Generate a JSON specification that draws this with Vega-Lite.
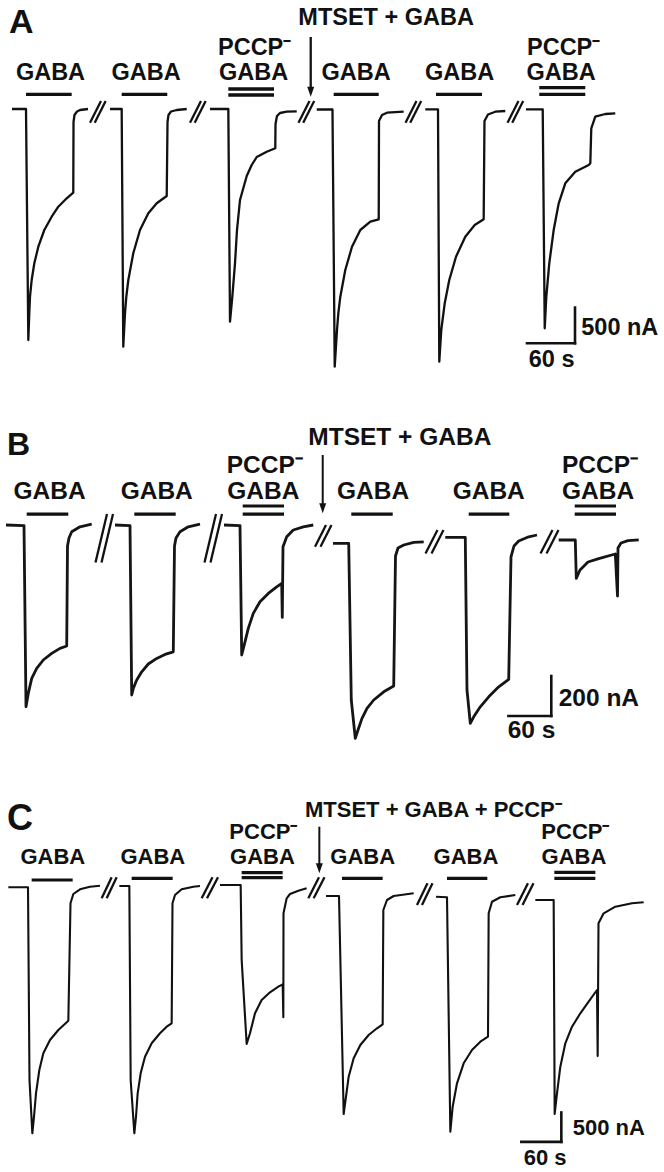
{
"$schema":"https://vega.github.io/schema/vega-lite/v6.json",
"background":"white","padding":0,"spacing":0,"bounds":"flush",
"config":{"view":{"stroke":null},"text":{"font":"Liberation Sans","fontWeight":"bold"}},
"datasets":{
"trA":[
{"s":"A1","t":15,"i":0},{"s":"A1","t":32.5,"i":0},{"s":"A1","t":35.4,"i":-3234},{"s":"A1","t":36.6,"i":-2860},{"s":"A1","t":37.5,"i":-2628},{"s":"A1","t":39.6,"i":-2394},{"s":"A1","t":42.9,"i":-2160},{"s":"A1","t":47.9,"i":-1928},{"s":"A1","t":55.4,"i":-1694},{"s":"A1","t":64.6,"i":-1508},{"s":"A1","t":72.9,"i":-1368},{"s":"A1","t":83.4,"i":-1250},{"s":"A1","t":91.6,"i":-1172},{"s":"A1","t":91.9,"i":-182},{"s":"A1","t":93.1,"i":-84},{"s":"A1","t":96.3,"i":-35},{"s":"A1","t":100,"i":-14},{"s":"A1","t":110,"i":0},
{"s":"A2","t":137.5,"i":0},{"s":"A2","t":152.1,"i":0},{"s":"A2","t":154.1,"i":-3328},{"s":"A2","t":156.25,"i":-2860},{"s":"A2","t":157.9,"i":-2628},{"s":"A2","t":160.4,"i":-2394},{"s":"A2","t":166.6,"i":-2020},{"s":"A2","t":175,"i":-1694},{"s":"A2","t":185.4,"i":-1460},{"s":"A2","t":195.9,"i":-1320},{"s":"A2","t":208.4,"i":-1218},{"s":"A2","t":209.4,"i":-182},{"s":"A2","t":210.6,"i":-84},{"s":"A2","t":213.75,"i":-35},{"s":"A2","t":220.9,"i":-14},{"s":"A2","t":233.4,"i":0},
{"s":"A3","t":262.5,"i":0},{"s":"A3","t":285.4,"i":0},{"s":"A3","t":287.5,"i":-2978},{"s":"A3","t":290.4,"i":-2628},{"s":"A3","t":293.75,"i":-2160},{"s":"A3","t":296.25,"i":-1694},{"s":"A3","t":300,"i":-1274},{"s":"A3","t":308.4,"i":-938},{"s":"A3","t":314.6,"i":-784},{"s":"A3","t":320.9,"i":-672},{"s":"A3","t":333.4,"i":-598},{"s":"A3","t":344.1,"i":-550},{"s":"A3","t":344.4,"i":-210},{"s":"A3","t":346.25,"i":-98},{"s":"A3","t":350,"i":-56},{"s":"A3","t":358.4,"i":-38},{"s":"A3","t":370.9,"i":-32},
{"s":"A4","t":395.9,"i":-7},{"s":"A4","t":415.6,"i":-7},{"s":"A4","t":418.4,"i":-3608},{"s":"A4","t":421.25,"i":-3094},{"s":"A4","t":422.9,"i":-2860},{"s":"A4","t":425.4,"i":-2628},{"s":"A4","t":431.6,"i":-2254},{"s":"A4","t":440,"i":-1928},{"s":"A4","t":450.4,"i":-1694},{"s":"A4","t":462.9,"i":-1578},{"s":"A4","t":473.4,"i":-1544},{"s":"A4","t":473.75,"i":-168},{"s":"A4","t":477.5,"i":-84},{"s":"A4","t":483.75,"i":-52},{"s":"A4","t":504.6,"i":-38},
{"s":"A5","t":531.6,"i":-4},{"s":"A5","t":547.5,"i":-4},{"s":"A5","t":549.1,"i":-3538},{"s":"A5","t":551.6,"i":-3094},{"s":"A5","t":555.9,"i":-2720},{"s":"A5","t":561.6,"i":-2394},{"s":"A5","t":570,"i":-2068},{"s":"A5","t":581.6,"i":-1788},{"s":"A5","t":593.4,"i":-1624},{"s":"A5","t":604.6,"i":-1544},{"s":"A5","t":605.6,"i":-168},{"s":"A5","t":610,"i":-77},{"s":"A5","t":619.1,"i":-38},{"s":"A5","t":631.6,"i":-28},
{"s":"A6","t":657.5,"i":-4},{"s":"A6","t":678.4,"i":-4},{"s":"A6","t":680.9,"i":-3070},{"s":"A6","t":682.9,"i":-2628},{"s":"A6","t":686.6,"i":-2160},{"s":"A6","t":692.1,"i":-1694},{"s":"A6","t":698.4,"i":-1320},{"s":"A6","t":706.6,"i":-1040},{"s":"A6","t":719.1,"i":-878},{"s":"A6","t":735.9,"i":-784},{"s":"A6","t":737.9,"i":-760},{"s":"A6","t":739.1,"i":-270},{"s":"A6","t":744.1,"i":-108},{"s":"A6","t":756.6,"i":-70},{"s":"A6","t":769.1,"i":-60}
],
"segA":[
{"g":"bar","t":32.5,"i":206,"t2":89.6,"i2":206},{"g":"bar","t":152.1,"i":206,"t2":209.1,"i2":206},{"g":"bar","t":285.4,"i":280,"t2":342.5,"i2":280},{"g":"bar","t":285.4,"i":196,"t2":342.5,"i2":196},{"g":"bar","t":417.1,"i":206,"t2":473.4,"i2":206},{"g":"bar","t":545,"i":206,"t2":602.5,"i2":206},{"g":"bar","t":674.1,"i":300,"t2":731.6,"i2":300},{"g":"bar","t":674.1,"i":206,"t2":731.6,"i2":206},
{"g":"brk","t":112.5,"i":-192,"t2":126.25,"i2":112},{"g":"brk","t":118.4,"i":-192,"t2":132.1,"i2":112},{"g":"brk","t":237.5,"i":-192,"t2":251.25,"i2":112},{"g":"brk","t":243.4,"i":-192,"t2":257.1,"i2":112},{"g":"brk","t":373.1,"i":-192,"t2":386.9,"i2":112},{"g":"brk","t":379,"i":-192,"t2":392.75,"i2":112},{"g":"brk","t":506.9,"i":-192,"t2":520.6,"i2":112},{"g":"brk","t":512.75,"i":-192,"t2":526.5,"i2":112},{"g":"brk","t":634.4,"i":-192,"t2":648.1,"i2":112},{"g":"brk","t":640.25,"i":-192,"t2":654,"i2":112},
{"g":"sc","t":718.75,"i":-2780,"t2":718.75,"i2":-3280},{"g":"sc","t":658.75,"i":-3280,"t2":718.75,"i2":-3280},
{"g":"arr","t":388.4,"i":1008,"t2":388.4,"i2":242}
],
"ptA":[{"t":388.4,"i":242}],
"txA":[
{"g":"big","t":11.25,"i":1064,"txt":"A"},
{"g":"l","t":372.9,"i":1176,"txt":"MTSET + GABA"},
{"g":"c","t":63.1,"i":406,"txt":"GABA"},{"g":"c","t":182.5,"i":406,"txt":"GABA"},{"g":"c","t":316.9,"i":406,"txt":"GABA"},{"g":"c","t":445,"i":406,"txt":"GABA"},{"g":"c","t":574.4,"i":406,"txt":"GABA"},{"g":"c","t":701.25,"i":406,"txt":"GABA"},
{"g":"l","t":272.5,"i":756,"txt":"PCCP\u207b"},{"g":"l","t":658.75,"i":756,"txt":"PCCP\u207b"},
{"g":"l","t":726.6,"i":-3164,"txt":"500 nA"},{"g":"l","t":660.9,"i":-3608,"txt":"60 s"}
],
"trB":[
{"s":"B1","t":8.4,"i":0},{"s":"B1","t":33.6,"i":-3},{"s":"B1","t":36.4,"i":-909},{"s":"B1","t":39.6,"i":-842},{"s":"B1","t":44.4,"i":-767},{"s":"B1","t":51.4,"i":-717},{"s":"B1","t":60.6,"i":-675},{"s":"B1","t":72.4,"i":-642},{"s":"B1","t":84,"i":-617},{"s":"B1","t":93.4,"i":-605},{"s":"B1","t":94.5,"i":-105},{"s":"B1","t":96.6,"i":-65},{"s":"B1","t":100.4,"i":-34},{"s":"B1","t":112,"i":-9},{"s":"B1","t":128.4,"i":4},
{"s":"B2","t":161,"i":0},{"s":"B2","t":182,"i":-3},{"s":"B2","t":184.4,"i":-850},{"s":"B2","t":186.6,"i":-817},{"s":"B2","t":191.4,"i":-775},{"s":"B2","t":198.4,"i":-734},{"s":"B2","t":207.6,"i":-695},{"s":"B2","t":219.4,"i":-667},{"s":"B2","t":231,"i":-647},{"s":"B2","t":242.6,"i":-634},{"s":"B2","t":244.3,"i":-105},{"s":"B2","t":246.4,"i":-65},{"s":"B2","t":252,"i":-34},{"s":"B2","t":263.6,"i":-9},{"s":"B2","t":280,"i":4},
{"s":"B3","t":313.6,"i":0},{"s":"B3","t":336,"i":-3},{"s":"B3","t":338.4,"i":-650},{"s":"B3","t":343,"i":-584},{"s":"B3","t":347.6,"i":-517},{"s":"B3","t":354.6,"i":-442},{"s":"B3","t":364,"i":-384},{"s":"B3","t":375.6,"i":-342},{"s":"B3","t":387.4,"i":-309},{"s":"B3","t":394.4,"i":-292},{"s":"B3","t":395.2,"i":-462},{"s":"B3","t":396.2,"i":-109},{"s":"B3","t":401.4,"i":-59},{"s":"B3","t":410.6,"i":-25},{"s":"B3","t":424.6,"i":-9},{"s":"B3","t":438.6,"i":0},
{"s":"B4","t":466.2,"i":-92},{"s":"B4","t":488.2,"i":-92},{"s":"B4","t":491.8,"i":-875},{"s":"B4","t":497.4,"i":-1067},{"s":"B4","t":501.2,"i":-1025},{"s":"B4","t":506.8,"i":-967},{"s":"B4","t":513.8,"i":-917},{"s":"B4","t":523.2,"i":-875},{"s":"B4","t":537.2,"i":-834},{"s":"B4","t":551.2,"i":-805},{"s":"B4","t":553.7,"i":-155},{"s":"B4","t":557.2,"i":-115},{"s":"B4","t":565.2,"i":-100},{"s":"B4","t":579.2,"i":-87},{"s":"B4","t":593.2,"i":-84},
{"s":"B5","t":623.4,"i":-62},{"s":"B5","t":651.4,"i":-62},{"s":"B5","t":653.8,"i":-825},{"s":"B5","t":658.4,"i":-992},{"s":"B5","t":663.2,"i":-959},{"s":"B5","t":672.4,"i":-909},{"s":"B5","t":684.2,"i":-859},{"s":"B5","t":698.2,"i":-809},{"s":"B5","t":712.2,"i":-772},{"s":"B5","t":715.4,"i":-159},{"s":"B5","t":719.6,"i":-105},{"s":"B5","t":726.2,"i":-80},{"s":"B5","t":740.2,"i":-59},{"s":"B5","t":751.8,"i":-50},
{"s":"B6","t":782.2,"i":-75},{"s":"B6","t":805.4,"i":-75},{"s":"B6","t":806.8,"i":-267},{"s":"B6","t":812,"i":-225},{"s":"B6","t":823.2,"i":-185},{"s":"B6","t":838.2,"i":-168},{"s":"B6","t":861.4,"i":-145},{"s":"B6","t":864.5,"i":-355},{"s":"B6","t":865.2,"i":-115},{"s":"B6","t":869.4,"i":-90},{"s":"B6","t":879.2,"i":-78},{"s":"B6","t":894.2,"i":-74}
],
"segB":[
{"g":"bar","t":37.4,"i":54,"t2":95.6,"i2":54},{"g":"bar","t":188,"i":54,"t2":246,"i2":54},{"g":"bar","t":339.8,"i":95,"t2":397.6,"i2":95},{"g":"bar","t":339.8,"i":54,"t2":397.6,"i2":54},{"g":"bar","t":491.8,"i":54,"t2":549.8,"i2":54},{"g":"bar","t":656.2,"i":54,"t2":713,"i2":54},{"g":"bar","t":804.6,"i":95,"t2":862.4,"i2":95},{"g":"bar","t":804.6,"i":54,"t2":862.4,"i2":54},
{"g":"brk","t":133.7,"i":-187,"t2":149.8,"i2":55},{"g":"brk","t":142.1,"i":-187,"t2":158.2,"i2":55},{"g":"brk","t":286.3,"i":-187,"t2":302.4,"i2":55},{"g":"brk","t":294.7,"i":-187,"t2":310.8,"i2":55},{"g":"brk","t":441,"i":-109,"t2":456.4,"i2":0},{"g":"brk","t":448.7,"i":-109,"t2":464.1,"i2":0},{"g":"brk","t":595.7,"i":-142,"t2":612.5,"i2":-25},{"g":"brk","t":604.1,"i":-142,"t2":620.9,"i2":-25},{"g":"brk","t":756.7,"i":-142,"t2":773.5,"i2":-25},{"g":"brk","t":765.1,"i":-142,"t2":781.9,"i2":-25},
{"g":"sc","t":771.8,"i":-755,"t2":771.8,"i2":-955},{"g":"sc","t":711.8,"i":-955,"t2":771.8,"i2":-955},
{"g":"arr","t":451.8,"i":350,"t2":451.8,"i2":84}
],
"ptB":[{"t":451.8,"i":84}],
"txB":[
{"g":"big","t":9.8,"i":350,"txt":"B"},
{"g":"l","t":431.6,"i":400,"txt":"MTSET + GABA"},
{"g":"c","t":69.3,"i":128,"txt":"GABA"},{"g":"c","t":219.4,"i":128,"txt":"GABA"},{"g":"c","t":368.6,"i":128,"txt":"GABA"},{"g":"c","t":522.2,"i":128,"txt":"GABA"},{"g":"c","t":684.2,"i":128,"txt":"GABA"},{"g":"c","t":837.2,"i":128,"txt":"GABA"},
{"g":"l","t":317.4,"i":258,"txt":"PCCP\u207b"},{"g":"l","t":786.8,"i":258,"txt":"PCCP\u207b"},
{"g":"l","t":782.2,"i":-903,"txt":"200 nA"},{"g":"l","t":710.8,"i":-1065,"txt":"60 s"}
],
"trC":[
{"s":"C1","t":12.5,"i":-22},{"s":"C1","t":42,"i":-22},{"s":"C1","t":44.25,"i":-3298},{"s":"C1","t":48.5,"i":-4204},{"s":"C1","t":51,"i":-3922},{"s":"C1","t":54,"i":-3524},{"s":"C1","t":59,"i":-3128},{"s":"C1","t":65,"i":-2844},{"s":"C1","t":75,"i":-2618},{"s":"C1","t":87.5,"i":-2448},{"s":"C1","t":102.5,"i":-2290},{"s":"C1","t":105.75,"i":-294},{"s":"C1","t":110,"i":-136},{"s":"C1","t":120,"i":-56},{"s":"C1","t":135,"i":-12},{"s":"C1","t":150,"i":5},
{"s":"C2","t":179,"i":0},{"s":"C2","t":194,"i":0},{"s":"C2","t":196,"i":-3298},{"s":"C2","t":201.5,"i":-4204},{"s":"C2","t":204,"i":-3922},{"s":"C2","t":206.5,"i":-3524},{"s":"C2","t":211,"i":-3184},{"s":"C2","t":217.5,"i":-2902},{"s":"C2","t":227.5,"i":-2674},{"s":"C2","t":240,"i":-2504},{"s":"C2","t":250,"i":-2392},{"s":"C2","t":257.5,"i":-2334},{"s":"C2","t":258.75,"i":-294},{"s":"C2","t":262.5,"i":-153},{"s":"C2","t":272.5,"i":-56},{"s":"C2","t":290,"i":-12},{"s":"C2","t":300,"i":0},
{"s":"C3","t":330,"i":17},{"s":"C3","t":361,"i":17},{"s":"C3","t":362.5,"i":-1258},{"s":"C3","t":370,"i":-2686},{"s":"C3","t":375,"i":-2504},{"s":"C3","t":382.5,"i":-2164},{"s":"C3","t":392.5,"i":-1938},{"s":"C3","t":405,"i":-1807},{"s":"C3","t":417.5,"i":-1712},{"s":"C3","t":424,"i":-1671},{"s":"C3","t":425,"i":-2232},{"s":"C3","t":425.25,"i":-464},{"s":"C3","t":430,"i":-209},{"s":"C3","t":435,"i":-136},{"s":"C3","t":447.5,"i":-80},{"s":"C3","t":460,"i":-39},
{"s":"C4","t":489,"i":-170},{"s":"C4","t":508.5,"i":-170},{"s":"C4","t":515.5,"i":-3876},{"s":"C4","t":519,"i":-3582},{"s":"C4","t":523,"i":-3242},{"s":"C4","t":530.5,"i":-2929},{"s":"C4","t":540.5,"i":-2703},{"s":"C4","t":553,"i":-2533},{"s":"C4","t":565.5,"i":-2419},{"s":"C4","t":574,"i":-2351},{"s":"C4","t":575,"i":-408},{"s":"C4","t":580.5,"i":-238},{"s":"C4","t":590.5,"i":-170},{"s":"C4","t":620.5,"i":-124},
{"s":"C5","t":654,"i":-182},{"s":"C5","t":670.5,"i":-192},{"s":"C5","t":675.5,"i":-4177},{"s":"C5","t":679,"i":-3752},{"s":"C5","t":685.5,"i":-3354},{"s":"C5","t":695.5,"i":-3014},{"s":"C5","t":708,"i":-2788},{"s":"C5","t":720.5,"i":-2647},{"s":"C5","t":732,"i":-2562},{"s":"C5","t":733,"i":-464},{"s":"C5","t":738,"i":-267},{"s":"C5","t":750.5,"i":-192},{"s":"C5","t":773,"i":-153},
{"s":"C6","t":803,"i":-238},{"s":"C6","t":830.5,"i":-238},{"s":"C6","t":832,"i":-3876},{"s":"C6","t":835.5,"i":-3524},{"s":"C6","t":840.5,"i":-3072},{"s":"C6","t":848,"i":-2674},{"s":"C6","t":858,"i":-2392},{"s":"C6","t":870.5,"i":-2164},{"s":"C6","t":883,"i":-1967},{"s":"C6","t":895.5,"i":-1768},{"s":"C6","t":896.5,"i":-2890},{"s":"C6","t":897.75,"i":-634},{"s":"C6","t":905.5,"i":-464},{"s":"C6","t":923,"i":-352},{"s":"C6","t":948,"i":-294},{"s":"C6","t":965.5,"i":-277}
],
"segC":[
{"g":"bar","t":47.5,"i":102,"t2":109,"i2":102},{"g":"bar","t":197.5,"i":131,"t2":259,"i2":131},{"g":"bar","t":362.5,"i":226,"t2":424,"i2":226},{"g":"bar","t":362.5,"i":141,"t2":424,"i2":141},{"g":"bar","t":513,"i":131,"t2":574,"i2":131},{"g":"bar","t":670.5,"i":131,"t2":731,"i2":131},{"g":"bar","t":831.5,"i":233,"t2":893,"i2":233},{"g":"bar","t":831.5,"i":131,"t2":893,"i2":131},
{"g":"brk","t":152.5,"i":-209,"t2":167.5,"i2":148},{"g":"brk","t":160,"i":-209,"t2":175,"i2":148},{"g":"brk","t":302.5,"i":-209,"t2":318.75,"i2":148},{"g":"brk","t":310.5,"i":-209,"t2":327,"i2":148},{"g":"brk","t":462.5,"i":-209,"t2":478.5,"i2":148},{"g":"brk","t":470.5,"i":-209,"t2":486.75,"i2":148},{"g":"brk","t":625.5,"i":-323,"t2":641.25,"i2":46},{"g":"brk","t":633,"i":-323,"t2":648.75,"i2":46},{"g":"brk","t":775.5,"i":-323,"t2":792,"i2":46},{"g":"brk","t":783.75,"i":-323,"t2":800.25,"i2":46},
{"g":"sc","t":842,"i":-3850,"t2":842,"i2":-4350},{"g":"sc","t":782,"i":-4350,"t2":842,"i2":-4350},
{"g":"arr","t":479,"i":1008,"t2":479,"i2":301}
],
"ptC":[{"t":479,"i":301}],
"txC":[
{"g":"big","t":10.5,"i":952,"txt":"C"},
{"g":"l","t":457.5,"i":1178,"txt":"MTSET + GABA + PCCP\u207b"},
{"g":"c","t":79.2,"i":372,"txt":"GABA"},{"g":"c","t":229.2,"i":372,"txt":"GABA"},{"g":"c","t":393.75,"i":372,"txt":"GABA"},{"g":"c","t":544,"i":372,"txt":"GABA"},{"g":"c","t":699,"i":372,"txt":"GABA"},{"g":"c","t":861,"i":372,"txt":"GABA"},
{"g":"l","t":344,"i":792,"txt":"PCCP\u207b"},{"g":"l","t":812,"i":792,"txt":"PCCP\u207b"},
{"g":"l","t":859,"i":-4233,"txt":"500 nA"},{"g":"l","t":785.5,"i":-4743,"txt":"60 s"}
]
},
"vconcat":[
{"width":664,"height":390,
"encoding":{"x":{"field":"t","type":"quantitative","scale":{"domain":[0,830],"nice":false,"zero":false},"axis":null},"y":{"field":"i","type":"quantitative","scale":{"domain":[-3934,1526],"nice":false,"zero":false},"axis":null}},
"layer":[
{"data":{"name":"trA"},"mark":{"type":"line","color":"#111","strokeWidth":2.3,"strokeJoin":"round"},"encoding":{"detail":{"field":"s","type":"nominal"}}},
{"data":{"name":"segA"},"transform":[{"filter":"datum.g==='bar'"}],"mark":{"type":"rule","color":"#111","strokeWidth":3.3},"encoding":{"x2":{"field":"t2"},"y2":{"field":"i2"}}},
{"data":{"name":"segA"},"transform":[{"filter":"datum.g==='brk'"}],"mark":{"type":"rule","color":"#111","strokeWidth":2.3},"encoding":{"x2":{"field":"t2"},"y2":{"field":"i2"}}},
{"data":{"name":"segA"},"transform":[{"filter":"datum.g==='sc'"}],"mark":{"type":"rule","color":"#111","strokeWidth":2.6,"strokeCap":"square"},"encoding":{"x2":{"field":"t2"},"y2":{"field":"i2"}}},
{"data":{"name":"segA"},"transform":[{"filter":"datum.g==='arr'"}],"mark":{"type":"rule","color":"#111","strokeWidth":2.3},"encoding":{"x2":{"field":"t2"},"y2":{"field":"i2"}}},
{"data":{"name":"ptA"},"mark":{"type":"point","shape":"M-0.7,-1L0.7,-1L0,1Z","filled":true,"size":100,"color":"#111","opacity":1}},
{"data":{"name":"txA"},"transform":[{"filter":"datum.g==='c'"}],"mark":{"type":"text","align":"center","baseline":"alphabetic","fontSize":23.5,"color":"#111"},"encoding":{"text":{"field":"txt"}}},
{"data":{"name":"txA"},"transform":[{"filter":"datum.g==='l'"}],"mark":{"type":"text","align":"left","baseline":"alphabetic","fontSize":23.5,"color":"#111"},"encoding":{"text":{"field":"txt"}}},
{"data":{"name":"txA"},"transform":[{"filter":"datum.g==='big'"}],"mark":{"type":"text","align":"left","baseline":"alphabetic","fontSize":34,"color":"#111"},"encoding":{"text":{"field":"txt"}}}
]},
{"width":664,"height":375,
"encoding":{"x":{"field":"t","type":"quantitative","scale":{"domain":[0,929.6],"nice":false,"zero":false},"axis":null},"y":{"field":"i","type":"quantitative","scale":{"domain":[-1200,675],"nice":false,"zero":false},"axis":null}},
"layer":[
{"data":{"name":"trB"},"mark":{"type":"line","color":"#151515","strokeWidth":2.8,"strokeJoin":"round"},"encoding":{"detail":{"field":"s","type":"nominal"}}},
{"data":{"name":"segB"},"transform":[{"filter":"datum.g==='bar'"}],"mark":{"type":"rule","color":"#111","strokeWidth":3.2},"encoding":{"x2":{"field":"t2"},"y2":{"field":"i2"}}},
{"data":{"name":"segB"},"transform":[{"filter":"datum.g==='brk'"}],"mark":{"type":"rule","color":"#111","strokeWidth":2.3},"encoding":{"x2":{"field":"t2"},"y2":{"field":"i2"}}},
{"data":{"name":"segB"},"transform":[{"filter":"datum.g==='sc'"}],"mark":{"type":"rule","color":"#111","strokeWidth":2.6,"strokeCap":"square"},"encoding":{"x2":{"field":"t2"},"y2":{"field":"i2"}}},
{"data":{"name":"segB"},"transform":[{"filter":"datum.g==='arr'"}],"mark":{"type":"rule","color":"#111","strokeWidth":2},"encoding":{"x2":{"field":"t2"},"y2":{"field":"i2"}}},
{"data":{"name":"ptB"},"mark":{"type":"point","shape":"M-0.7,-1L0.7,-1L0,1Z","filled":true,"size":100,"color":"#111","opacity":1}},
{"data":{"name":"txB"},"transform":[{"filter":"datum.g==='c'"}],"mark":{"type":"text","align":"center","baseline":"alphabetic","fontSize":24.5,"color":"#111"},"encoding":{"text":{"field":"txt"}}},
{"data":{"name":"txB"},"transform":[{"filter":"datum.g==='l'"}],"mark":{"type":"text","align":"left","baseline":"alphabetic","fontSize":24.5,"color":"#111"},"encoding":{"text":{"field":"txt"}}},
{"data":{"name":"txB"},"transform":[{"filter":"datum.g==='big'"}],"mark":{"type":"text","align":"left","baseline":"alphabetic","fontSize":32,"color":"#111"},"encoding":{"text":{"field":"txt"}}}
]},
{"width":664,"height":407,
"encoding":{"x":{"field":"t","type":"quantitative","scale":{"domain":[0,996],"nice":false,"zero":false},"axis":null},"y":{"field":"i","type":"quantitative","scale":{"domain":[-4862,2057],"nice":false,"zero":false},"axis":null}},
"layer":[
{"data":{"name":"trC"},"mark":{"type":"line","color":"#111","strokeWidth":2.1,"strokeJoin":"round"},"encoding":{"detail":{"field":"s","type":"nominal"}}},
{"data":{"name":"segC"},"transform":[{"filter":"datum.g==='bar'"}],"mark":{"type":"rule","color":"#111","strokeWidth":3.2},"encoding":{"x2":{"field":"t2"},"y2":{"field":"i2"}}},
{"data":{"name":"segC"},"transform":[{"filter":"datum.g==='brk'"}],"mark":{"type":"rule","color":"#111","strokeWidth":2.3},"encoding":{"x2":{"field":"t2"},"y2":{"field":"i2"}}},
{"data":{"name":"segC"},"transform":[{"filter":"datum.g==='sc'"}],"mark":{"type":"rule","color":"#111","strokeWidth":2.6,"strokeCap":"square"},"encoding":{"x2":{"field":"t2"},"y2":{"field":"i2"}}},
{"data":{"name":"segC"},"transform":[{"filter":"datum.g==='arr'"}],"mark":{"type":"rule","color":"#111","strokeWidth":2},"encoding":{"x2":{"field":"t2"},"y2":{"field":"i2"}}},
{"data":{"name":"ptC"},"mark":{"type":"point","shape":"M-0.7,-1L0.7,-1L0,1Z","filled":true,"size":100,"color":"#111","opacity":1}},
{"data":{"name":"txC"},"transform":[{"filter":"datum.g==='c'"}],"mark":{"type":"text","align":"center","baseline":"alphabetic","fontSize":22,"color":"#111"},"encoding":{"text":{"field":"txt"}}},
{"data":{"name":"txC"},"transform":[{"filter":"datum.g==='l'"}],"mark":{"type":"text","align":"left","baseline":"alphabetic","fontSize":22,"color":"#111"},"encoding":{"text":{"field":"txt"}}},
{"data":{"name":"txC"},"transform":[{"filter":"datum.g==='big'"}],"mark":{"type":"text","align":"left","baseline":"alphabetic","fontSize":36,"color":"#111"},"encoding":{"text":{"field":"txt"}}}
]}
]
}
